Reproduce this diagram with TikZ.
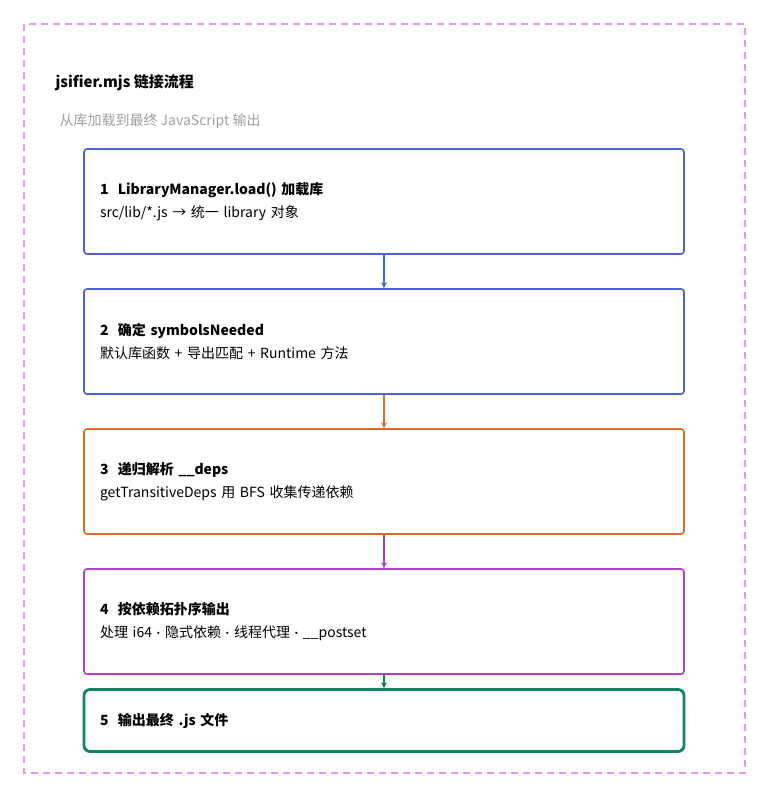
\documentclass[tikz,border=0pt]{standalone}
\usepackage{fontspec}
\setmainfont{Noto Sans CJK SC}
\newfontfamily\dotfont{Lato}
\usetikzlibrary{arrows.meta, positioning}
\definecolor{stepblue}{RGB}{74, 99, 214}
\definecolor{steporange}{RGB}{222, 108, 40}
\definecolor{steppurple}{RGB}{176, 64, 200}
\definecolor{stepgreen}{RGB}{16, 134, 92}
\definecolor{framepink}{RGB}{232, 150, 232}
\newcommand{\sepdot}{{\dotfont\ ·\ }}
\tikzset{
  step/.style={draw=#1, rounded corners=3pt, line width=1.6pt, minimum width=600pt,
    minimum height=105pt, text width=568pt, align=left, inner sep=0pt, font=\fontsize{14}{23}\selectfont},
  link/.style={-{Stealth[length=6pt,width=6pt]}, line width=1.6pt, draw=#1}
}
\begin{document}
\begin{tikzpicture}[x=1pt, y=-1pt]
  \useasboundingbox (0,0) rectangle (768,798);
  % Frame
  \draw[framepink, line width=2pt, dash pattern=on 7pt off 5pt] (24,24) rectangle (745,773);
  \node[anchor=west, font=\fontsize{15}{17}\selectfont\bfseries] (title) at (52,83) {jsifier.mjs 链接流程};
  \node[anchor=west, text=gray!75, font=\fontsize{14}{16}\selectfont] (subtitle) at (56,121) {从库加载到最终 JavaScript 输出};

  % Steps
  \node[step=stepblue] (s1) at (384,201.5) {\textbf{1\ \ LibraryManager.load() 加载库}\\src/lib/*.js → 统一 library 对象};
  \node[step=stepblue] (s2) at (384,341.5) {\textbf{2\ \ 确定 symbolsNeeded}\\默认库函数 + 导出匹配 + Runtime 方法};
  \node[step=steporange] (s3) at (384,481.5) {\textbf{3\ \ 递归解析 \_\_deps}\\getTransitiveDeps 用 BFS 收集传递依赖};
  \node[step=steppurple] (s4) at (384,621.5) {\textbf{4\ \ 按依赖拓扑序输出}\\处理 i64\sepdot 隐式依赖\sepdot 线程代理\sepdot \_\_postset};
  \node[step=stepgreen, line width=2.8pt, minimum height=62pt, rounded corners=6pt] (s5) at (384,720.5) {\textbf{5\ \ 输出最终 .js 文件}};

  % Arrows
  \draw[link=stepblue] (s1) -- (s2);
  \draw[link=steporange] (s2) -- (s3);
  \draw[link=steppurple] (s3) -- (s4);
  \draw[link=stepgreen] (s4) -- (s5);
\end{tikzpicture}
\end{document}
